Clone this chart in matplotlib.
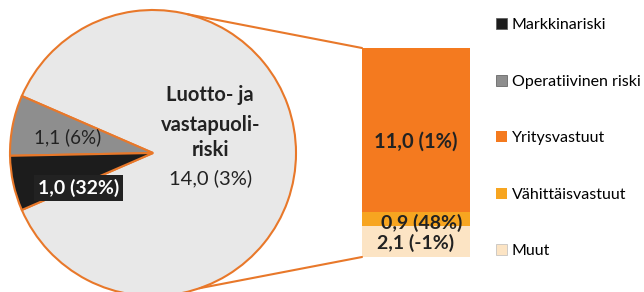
import matplotlib
matplotlib.use("Agg")
import numpy as np
import matplotlib.pyplot as plt
from matplotlib.patches import Patch, ConnectionPatch

plt.rcParams['font.family'] = ['Lato', 'DejaVu Sans']

# pie: riskityypit
pie_labels = ['Luotto- ja vastapuoliriski', 'Operatiivinen riski', 'Markkinariski']
pie_values = [14.0, 1.1, 1.0]
pie_texts = ['Luotto- ja', 'vastapuoli-', 'riski', '14,0 (3%)']
small_texts = ['1,1 (6%)', '1,0 (32%)']
pie_colors = ['#E8E8E8', '#8E8E8E', '#1C1C1C']

# bar: luottoriskin jako
bar_labels = ['Muut', 'Vähittäisvastuut', 'Yritysvastuut']
bar_values = [2.1, 0.9, 11.0]
bar_texts = ['2,1 (-1%)', '0,9 (48%)', '11,0 (1%)']
bar_colors = ['#FCE4C4', '#F7A520', '#F47A1F']

edge = '#E8782A'
txt = '#222222'

fig = plt.figure(figsize=(6.44, 2.92), dpi=100)
ax_pie = fig.add_axes([10/644, -4/292, 286/644, 286/292])
ax_bar = fig.add_axes([362/644, 35/292, 108/644, 209/292])

start = 180 + 180 * sum(pie_values[1:]) / sum(pie_values)
wedges, _ = ax_pie.pie(pie_values, colors=pie_colors, startangle=start,
                       radius=1, counterclock=True,
                       wedgeprops=dict(edgecolor=edge, linewidth=1.5))
ax_pie.set_xlim(-1, 1)
ax_pie.set_ylim(-1, 1)
ax_pie.set_aspect('equal')
ax_pie.axis('off')

# tekstit piirakkaan
for s, y in zip(pie_texts, [0.405, 0.196, 0.021, -0.175]):
    w = 'normal' if s.startswith('14') else 'bold'
    ax_pie.text(0.40, y, s, ha='center', va='center', fontsize=14.5,
                fontweight=w, color=txt)
ax_pie.text(-0.594, 0.11, small_texts[0], ha='center', va='center',
            fontsize=13.5, color=txt)
ax_pie.text(-0.52, -0.245, small_texts[1], ha='center', va='center',
            fontsize=14, fontweight='bold', color='white',
            bbox=dict(facecolor='#222222', edgecolor='none', pad=3))

# pinottu pylväs
bottom = 0
for v, c in zip(bar_values, bar_colors):
    ax_bar.bar(0, v, width=1, bottom=bottom, color=c, edgecolor='none')
    bottom += v
ax_bar.set_xlim(-0.5, 0.5)
ax_bar.set_ylim(0, sum(bar_values))
ax_bar.axis('off')

ax_bar.text(0.0, 7.7, bar_texts[2], ha='center', va='center', fontsize=14.5,
            fontweight='bold', color=txt)
ax_bar.text(0.05, 2.28, bar_texts[1], ha='center', va='center', fontsize=14,
            fontweight='bold', color=txt)
ax_bar.text(0.0, 0.94, bar_texts[0], ha='center', va='center', fontsize=14,
            fontweight='bold', color=txt)

# yhdysviivat
for ang, yb in [(76, sum(bar_values)), (-71, 0)]:
    a = np.deg2rad(ang)
    con = ConnectionPatch(xyA=(np.cos(a), np.sin(a)), coordsA=ax_pie.transData,
                          xyB=(-0.5, yb), coordsB=ax_bar.transData,
                          color=edge, linewidth=1.5)
    fig.add_artist(con)

# selite
handles = [Patch(facecolor=pie_colors[2], edgecolor='#555555', linewidth=0.5),
           Patch(facecolor=pie_colors[1], edgecolor='#555555', linewidth=0.5),
           Patch(facecolor=bar_colors[2], edgecolor='none'),
           Patch(facecolor=bar_colors[1], edgecolor='none'),
           Patch(facecolor=bar_colors[0], edgecolor='#bbbbbb', linewidth=0.5)]
names = ['Markkinariski', 'Operatiivinen riski', 'Yritysvastuut',
         'Vähittäisvastuut', 'Muut']
fig.legend(handles, names, loc='upper left', bbox_to_anchor=(490/644, 1 - 12/292),
           frameon=False, fontsize=11.5, handlelength=0.65, handleheight=0.65,
           handletextpad=0.3, labelspacing=2.66, borderaxespad=0)

fig.savefig('out.png', dpi=100)
